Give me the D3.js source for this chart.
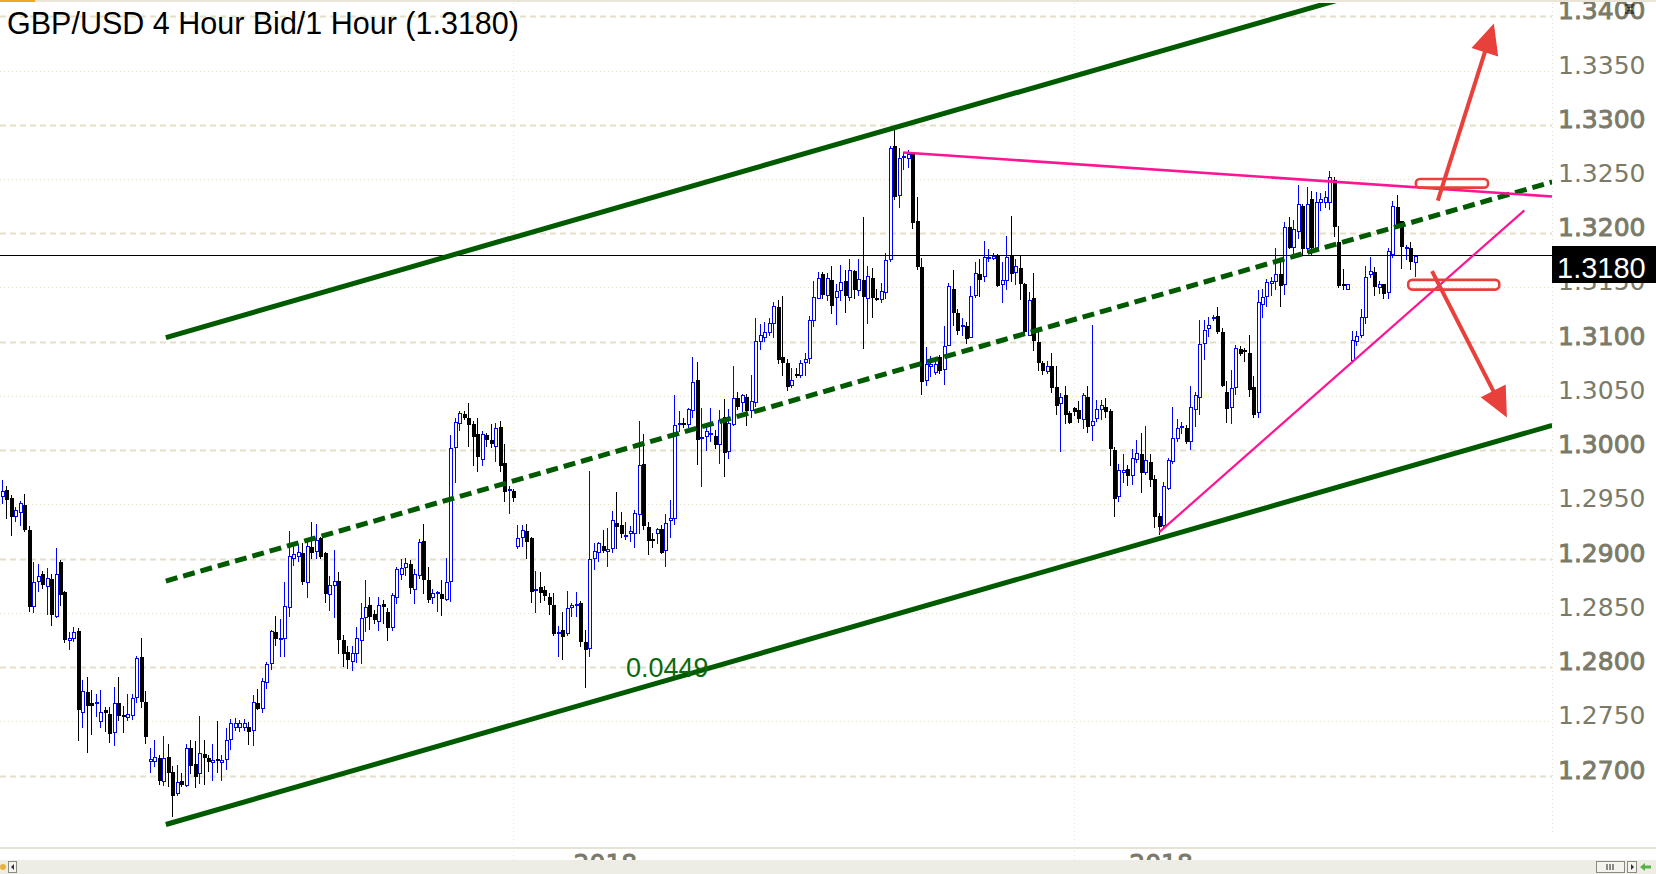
<!DOCTYPE html>
<html><head><meta charset="utf-8">
<script src="https://cdn.jsdelivr.net/npm/d3@7"></script>
<style>html,body{margin:0;padding:0;background:#fff;overflow:hidden}svg{display:block}</style>
</head><body><svg id="c" width="1656" height="874"></svg>
<script>
// ---------------- DATA ----------------
const title = "GBP/USD 4 Hour Bid/1 Hour (1.3180)";
const lastPrice = 1.3180;
const opens = [1.2958,1.2963,1.2956,1.2939,1.2943,1.2949,1.2926,1.2856,1.2879,1.2886,1.2875,1.2881,1.2847,1.2897,1.2869,1.2825,1.2827,1.2833,1.2759,1.2777,1.2767,1.2767,1.2750,1.2760,1.2757,1.2740,1.2767,1.2756,1.2754,1.2756,1.2772,1.2809,1.2768,1.2713,1.2713,1.2716,1.2695,1.2717,1.2703,1.2684,1.2695,1.2691,1.2725,1.2711,1.2702,1.2720,1.2716,1.2712,1.2715,1.2712,1.2715,1.2734,1.2745,1.2745,1.2745,1.2745,1.2742,1.2767,1.2762,1.2786,1.2804,1.2832,1.2826,1.2827,1.2855,1.2901,1.2902,1.2905,1.2878,1.2911,1.2907,1.2919,1.2905,1.2867,1.2876,1.2879,1.2825,1.2814,1.2806,1.2813,1.2825,1.2846,1.2857,1.2849,1.2842,1.2858,1.2851,1.2837,1.2865,1.2886,1.2892,1.2895,1.2872,1.2885,1.2916,1.2880,1.2865,1.2868,1.2867,1.2863,1.2879,1.3003,1.3025,1.3033,1.3030,1.3024,1.3015,1.2992,1.3014,1.3009,1.3004,1.3021,1.2988,1.2963,1.2962,1.2912,1.2920,1.2925,1.2919,1.2871,1.2874,1.2871,1.2865,1.2857,1.2831,1.2834,1.2831,1.2855,1.2857,1.2859,1.2823,1.2818,1.2901,1.2906,1.2912,1.2907,1.2910,1.2933,1.2931,1.2921,1.2924,1.2924,1.2941,1.2987,1.2929,1.2918,1.2924,1.2927,1.2908,1.2936,1.2937,1.3024,1.3025,1.3024,1.3037,1.3065,1.3011,1.3013,1.3015,1.3013,1.3006,1.3031,1.2999,1.3024,1.3048,1.3044,1.3049,1.3037,1.3044,1.3101,1.3104,1.3109,1.3117,1.3132,1.3086,1.3080,1.3060,1.3070,1.3069,1.3081,1.3085,1.3120,1.3140,1.3162,1.3143,1.3157,1.3141,1.3148,1.3156,1.3141,1.3165,1.3148,1.3157,1.3140,1.3159,1.3140,1.3139,1.3146,1.3176,1.3280,1.3235,1.3270,1.3269,1.3274,1.3211,1.3169,1.3065,1.3078,1.3072,1.3086,1.3075,1.3097,1.3149,1.3126,1.3114,1.3114,1.3104,1.3143,1.3162,1.3161,1.3177,1.3177,1.3180,1.3153,1.3157,1.3180,1.3164,1.3168,1.3153,1.3106,1.3140,1.3100,1.3080,1.3073,1.3078,1.3058,1.3043,1.3051,1.3034,1.3039,1.3037,1.3029,1.3049,1.3023,1.3030,1.3038,1.3040,1.3036,1.3000,1.2958,1.2980,1.2983,1.2977,1.2992,1.2996,1.2980,1.2989,1.2973,1.2939,1.2931,1.2965,1.2990,1.3011,1.3021,1.3020,1.3008,1.3038,1.3049,1.3099,1.3113,1.3122,1.3124,1.3109,1.3054,1.3040,1.3058,1.3093,1.3092,1.3090,1.3058,1.3035,1.3135,1.3142,1.3154,1.3156,1.3162,1.3153,1.3206,1.3187,1.3202,1.3225,1.3186,1.3232,1.3186,1.3229,1.3229,1.3229,1.3249,1.3192,1.3153,1.3149,1.3083,1.3101,1.3106,1.3123,1.3162,1.3164,1.3150,1.3153,1.3146,1.3181,1.3224,1.3211,1.3186,1.3186,1.3173];
const highs = [1.2972,1.2967,1.2959,1.2948,1.2953,1.2960,1.2930,1.2897,1.2895,1.2889,1.2891,1.2886,1.2910,1.2899,1.2870,1.2832,1.2837,1.2836,1.2788,1.2791,1.2779,1.2775,1.2779,1.2763,1.2763,1.2782,1.2791,1.2764,1.2775,1.2775,1.2810,1.2827,1.2778,1.2725,1.2733,1.2719,1.2736,1.2729,1.2709,1.2710,1.2702,1.2729,1.2733,1.2732,1.2755,1.2733,1.2719,1.2729,1.2750,1.2719,1.2744,1.2752,1.2753,1.2751,1.2752,1.2749,1.2774,1.2780,1.2790,1.2805,1.2834,1.2847,1.2844,1.2878,1.2925,1.2913,1.2913,1.2914,1.2915,1.2934,1.2932,1.2920,1.2906,1.2884,1.2908,1.2888,1.2830,1.2819,1.2819,1.2837,1.2859,1.2880,1.2865,1.2853,1.2865,1.2862,1.2854,1.2868,1.2892,1.2900,1.2901,1.2899,1.2890,1.2918,1.2932,1.2892,1.2872,1.2870,1.2880,1.2901,1.3014,1.3030,1.3036,1.3036,1.3043,1.3027,1.3030,1.3018,1.3016,1.3024,1.3025,1.3027,1.3006,1.2967,1.2964,1.2931,1.2931,1.2932,1.2920,1.2889,1.2888,1.2875,1.2868,1.2868,1.2838,1.2851,1.2870,1.2859,1.2869,1.2861,1.2834,1.2981,1.2914,1.2915,1.2926,1.2928,1.2944,1.2961,1.2943,1.2934,1.2930,1.2945,1.3027,1.3015,1.2934,1.2924,1.2928,1.2931,1.2941,1.2954,1.3051,1.3036,1.3030,1.3039,1.3086,1.3081,1.3039,1.3021,1.3039,1.3019,1.3037,1.3047,1.3038,1.3078,1.3054,1.3052,1.3052,1.3069,1.3122,1.3116,1.3118,1.3122,1.3137,1.3138,1.3142,1.3084,1.3076,1.3076,1.3083,1.3090,1.3124,1.3156,1.3164,1.3164,1.3163,1.3170,1.3153,1.3171,1.3166,1.3176,1.3166,1.3176,1.3215,1.3170,1.3168,1.3149,1.3154,1.3182,1.3280,1.3299,1.3279,1.3275,1.3277,1.3275,1.3233,1.3177,1.3095,1.3087,1.3085,1.3088,1.3114,1.3154,1.3166,1.3130,1.3122,1.3118,1.3151,1.3173,1.3176,1.3193,1.3185,1.3182,1.3181,1.3173,1.3197,1.3216,1.3176,1.3179,1.3154,1.3146,1.3163,1.3110,1.3082,1.3082,1.3090,1.3078,1.3053,1.3059,1.3036,1.3040,1.3045,1.3053,1.3059,1.3115,1.3046,1.3046,1.3048,1.3038,1.3003,1.2987,1.2996,1.2986,1.3001,1.3009,1.3016,1.3022,1.2996,1.2977,1.2942,1.2971,1.2993,1.3040,1.3029,1.3026,1.3023,1.3059,1.3054,1.3120,1.3120,1.3123,1.3125,1.3132,1.3113,1.3064,1.3074,1.3097,1.3096,1.3094,1.3106,1.3068,1.3148,1.3149,1.3158,1.3160,1.3186,1.3173,1.3210,1.3215,1.3212,1.3244,1.3227,1.3243,1.3239,1.3238,1.3237,1.3239,1.3257,1.3252,1.3207,1.3167,1.3153,1.3110,1.3110,1.3130,1.3170,1.3178,1.3169,1.3156,1.3153,1.3186,1.3230,1.3235,1.3211,1.3189,1.3192,1.3180];
const lows = [1.2951,1.2937,1.2922,1.2935,1.2931,1.2925,1.2852,1.2851,1.2870,1.2873,1.2849,1.2839,1.2846,1.2857,1.2823,1.2817,1.2824,1.2733,1.2745,1.2722,1.2738,1.2755,1.2745,1.2741,1.2731,1.2728,1.2751,1.2740,1.2751,1.2752,1.2768,1.2763,1.2730,1.2703,1.2709,1.2692,1.2691,1.2690,1.2663,1.2682,1.2690,1.2690,1.2702,1.2689,1.2693,1.2692,1.2704,1.2696,1.2703,1.2696,1.2706,1.2724,1.2742,1.2741,1.2742,1.2729,1.2728,1.2761,1.2759,1.2781,1.2798,1.2820,1.2810,1.2810,1.2847,1.2894,1.2898,1.2877,1.2865,1.2901,1.2901,1.2901,1.2860,1.2853,1.2846,1.2813,1.2801,1.2799,1.2797,1.2805,1.2804,1.2833,1.2835,1.2841,1.2834,1.2841,1.2825,1.2834,1.2859,1.2881,1.2885,1.2868,1.2859,1.2882,1.2868,1.2860,1.2859,1.2852,1.2848,1.2862,1.2861,1.2971,1.3019,1.3029,1.3004,1.2986,1.2981,1.2986,1.3004,1.3003,1.2990,1.2981,1.2953,1.2942,1.2953,1.2910,1.2912,1.2901,1.2860,1.2851,1.2860,1.2862,1.2849,1.2830,1.2810,1.2807,1.2830,1.2847,1.2847,1.2819,1.2782,1.2810,1.2890,1.2898,1.2906,1.2893,1.2906,1.2910,1.2920,1.2918,1.2916,1.2911,1.2924,1.2927,1.2904,1.2911,1.2914,1.2905,1.2893,1.2920,1.2932,1.3018,1.3021,1.3021,1.3031,1.2987,1.2967,1.3000,1.3008,1.3002,1.2988,1.2976,1.2993,1.3023,1.3038,1.3036,1.3023,1.3031,1.3041,1.3093,1.3101,1.3106,1.3104,1.3080,1.3069,1.3055,1.3058,1.3067,1.3067,1.3069,1.3080,1.3114,1.3140,1.3140,1.3138,1.3126,1.3116,1.3138,1.3127,1.3138,1.3140,1.3143,1.3094,1.3117,1.3123,1.3138,1.3137,1.3140,1.3174,1.3232,1.3224,1.3259,1.3261,1.3205,1.3167,1.3052,1.3060,1.3068,1.3070,1.3071,1.3061,1.3097,1.3115,1.3107,1.3106,1.3099,1.3104,1.3141,1.3142,1.3156,1.3174,1.3176,1.3151,1.3137,1.3149,1.3156,1.3153,1.3139,1.3106,1.3106,1.3092,1.3074,1.3070,1.3071,1.3054,1.3033,1.2999,1.3025,1.3025,1.3032,1.3026,1.3020,1.3017,1.3009,1.3027,1.3029,1.3031,1.2986,1.2939,1.2953,1.2971,1.2968,1.2969,1.2989,1.2961,1.2978,1.2967,1.2929,1.2923,1.2928,1.2964,1.2988,1.3008,1.3016,1.3007,1.3001,1.3022,1.3033,1.3084,1.3105,1.3120,1.3108,1.3059,1.3026,1.3025,1.3052,1.3088,1.3082,1.3050,1.3031,1.3031,1.3123,1.3133,1.3143,1.3149,1.3133,1.3144,1.3186,1.3180,1.3196,1.3180,1.3183,1.3180,1.3186,1.3221,1.3224,1.3222,1.3197,1.3150,1.3149,1.3149,1.3081,1.3097,1.3104,1.3117,1.3160,1.3143,1.3145,1.3140,1.3140,1.3178,1.3207,1.3168,1.3176,1.3167,1.3161];
const closes = [1.2962,1.2955,1.2939,1.2945,1.2951,1.2927,1.2856,1.2878,1.2884,1.2877,1.2882,1.2849,1.2886,1.2867,1.2826,1.2827,1.2832,1.2761,1.2778,1.2765,1.2765,1.2768,1.2759,1.2759,1.2739,1.2767,1.2756,1.2755,1.2757,1.2771,1.2808,1.2769,1.2736,1.2715,1.2717,1.2696,1.2716,1.2703,1.2682,1.2694,1.2692,1.2725,1.2710,1.2700,1.2721,1.2717,1.2713,1.2714,1.2714,1.2714,1.2733,1.2748,1.2748,1.2748,1.2748,1.2741,1.2768,1.2762,1.2787,1.2803,1.2833,1.2827,1.2827,1.2856,1.2902,1.2904,1.2906,1.2879,1.2912,1.2906,1.2917,1.2902,1.2868,1.2876,1.2879,1.2826,1.2813,1.2807,1.2813,1.2827,1.2845,1.2855,1.2847,1.2844,1.2857,1.2856,1.2837,1.2866,1.2890,1.2891,1.2896,1.2874,1.2886,1.2915,1.2881,1.2863,1.2868,1.2869,1.2864,1.2878,1.3002,1.3026,1.3034,1.3031,1.3024,1.3013,1.2995,1.3015,1.3010,1.3007,1.3020,1.2986,1.2962,1.2964,1.2957,1.2919,1.2926,1.2916,1.2870,1.2872,1.2869,1.2866,1.2858,1.2831,1.2832,1.2829,1.2854,1.2857,1.2858,1.2824,1.2817,1.2900,1.2907,1.2914,1.2908,1.2909,1.2936,1.2930,1.2924,1.2922,1.2925,1.2942,1.2986,1.2931,1.2917,1.2917,1.2927,1.2906,1.2933,1.2937,1.3023,1.3025,1.3024,1.3038,1.3063,1.3010,1.3012,1.3018,1.3016,1.3006,1.3028,1.2998,1.3025,1.3048,1.3041,1.3051,1.3037,1.3045,1.3101,1.3106,1.3109,1.3117,1.3133,1.3084,1.3081,1.3059,1.3065,1.3069,1.3080,1.3084,1.3120,1.3141,1.3159,1.3144,1.3159,1.3134,1.3147,1.3155,1.3143,1.3166,1.3149,1.3158,1.3142,1.3161,1.3141,1.3139,1.3147,1.3175,1.3279,1.3234,1.3269,1.3271,1.3273,1.3210,1.3170,1.3064,1.3079,1.3079,1.3079,1.3074,1.3096,1.3151,1.3127,1.3111,1.3115,1.3103,1.3142,1.3163,1.3158,1.3178,1.3178,1.3179,1.3152,1.3157,1.3178,1.3163,1.3170,1.3154,1.3110,1.3138,1.3102,1.3081,1.3074,1.3078,1.3058,1.3042,1.3049,1.3033,1.3026,1.3036,1.3030,1.3051,1.3022,1.3027,1.3038,1.3042,1.3036,1.3002,1.2956,1.2982,1.2982,1.2977,1.2993,1.2997,1.2980,1.2991,1.2973,1.2939,1.2930,1.2967,1.2991,1.3011,1.3020,1.3022,1.3008,1.3040,1.3051,1.3098,1.3111,1.3115,1.3123,1.3110,1.3060,1.3039,1.3057,1.3094,1.3090,1.3091,1.3056,1.3033,1.3137,1.3141,1.3155,1.3156,1.3162,1.3152,1.3206,1.3187,1.3204,1.3227,1.3186,1.3227,1.3187,1.3229,1.3232,1.3233,1.3252,1.3207,1.3152,1.3152,1.3153,1.3102,1.3105,1.3123,1.3160,1.3165,1.3151,1.3153,1.3145,1.3184,1.3225,1.3209,1.3188,1.3187,1.3174,1.3179];

const majorTicks = [1.27,1.28,1.29,1.30,1.31,1.32,1.33,1.34];
const minorTicks = [1.275,1.285,1.295,1.305,1.315,1.325,1.335];
const periodBreaks = [114.1, 239.1];          // candle positions of the period separators
const periodLabels = [[134.6,"2018"],[258.5,"2018"]];

// drawings, given as [candle position, price]
const channelBase = [[36.6,1.26548],[345.7,1.30228]];
const channelWidth = 0.0449;
const channelLabel = [139.2,1.2791,"0.0449"];
const resistanceLine = [[201.0,1.32744],[345.7,1.32338]];
const supportLine = [[258.1,1.29244],[339.5,1.32211]];
const boxes = [[315.3,331.4,1.3242,1.3250],[313.6,333.9,1.3148,1.3157]];
const arrows = [[[320.2,1.3230],[332.7,1.33933]],[[318.9,1.3165],[335.6,1.3030]]];

// ---------------- LAYOUT ----------------
const W = 1656, H = 874;
const plotL = 0, plotR = 1552, plotT = 3, plotB = 835;
const svg = d3.select("#c");
const x = d3.scaleLinear().domain([0, opens.length-1]).range([1.7, 1414.5]);
const y = d3.scaleLinear().domain([1.27, 1.34]).range([775.5, 16.3]);
const GRID = "#e4dfc9", LABEL = "#7b7a68";

svg.append("rect").attr("width",W).attr("height",H).attr("fill","#fff");
svg.append("defs").append("clipPath").attr("id","plot")
  .append("rect").attr("x",plotL).attr("y",plotT).attr("width",plotR-plotL).attr("height",plotB-plotT);

// grid
const g = svg.append("g");
g.selectAll(".maj").data(majorTicks).join("line")
  .attr("x1",plotL).attr("x2",plotR)
  .attr("y1",d=>Math.round(y(d))+0.5).attr("y2",d=>Math.round(y(d))+0.5)
  .attr("stroke",GRID).attr("stroke-width",2).attr("stroke-dasharray","6,4");
g.selectAll(".min").data(minorTicks).join("line")
  .attr("x1",plotL).attr("x2",plotR)
  .attr("y1",d=>Math.round(y(d))+0.5).attr("y2",d=>Math.round(y(d))+0.5)
  .attr("stroke",GRID).attr("stroke-width",1).attr("stroke-dasharray","1,3");
// vertical separators
g.selectAll(".vs").data(periodBreaks).join("line")
  .attr("x1",d=>Math.round(x(d))+0.5).attr("x2",d=>Math.round(x(d))+0.5)
  .attr("y1",plotT).attr("y2",860).attr("stroke","#ebe8da").attr("stroke-dasharray","1,3");
g.append("line").attr("x1",plotR+0.5).attr("x2",plotR+0.5).attr("y1",plotT).attr("y2",plotB)
  .attr("stroke","#e4e1d2").attr("stroke-dasharray","1,3");

// candles
const idx = d3.range(opens.length);
const cg = svg.append("g").attr("clip-path","url(#plot)");
const cx = i => Math.round(x(i));
cg.selectAll(".wick").data(idx).join("line")
  .attr("x1",i=>cx(i)+0.5).attr("x2",i=>cx(i)+0.5)
  .attr("y1",i=>Math.round(y(highs[i]))).attr("y2",i=>Math.round(y(lows[i]))+1)
  .attr("stroke",i=>closes[i]>=opens[i]?"#0000ff":"#000").attr("stroke-width",1);
const bulls = idx.filter(i=>closes[i]>=opens[i]);
const bears = idx.filter(i=>closes[i]<opens[i]);
cg.selectAll(".bull").data(bulls).join("rect")
  .attr("x",i=>cx(i)-0.5).attr("width",3)
  .attr("y",i=>Math.round(y(closes[i]))+0.5)
  .attr("height",i=>Math.max(1,Math.round(y(opens[i]))-Math.round(y(closes[i]))))
  .attr("fill","#fff").attr("stroke","#0000ff").attr("stroke-width",1);
cg.selectAll(".bear").data(bears).join("rect")
  .attr("x",i=>cx(i)-1).attr("width",4)
  .attr("y",i=>Math.round(y(opens[i])))
  .attr("height",i=>Math.max(2,Math.round(y(closes[i]))-Math.round(y(opens[i]))+1))
  .attr("fill","#000");

// last price line
svg.append("line").attr("x1",plotL).attr("x2",plotR)
  .attr("y1",Math.round(y(lastPrice))+0.5).attr("y2",Math.round(y(lastPrice))+0.5)
  .attr("stroke","#000").attr("stroke-width",1);

// channel
const dg = svg.append("g").attr("clip-path","url(#plot)");
const lineGen = d3.line().x(d=>x(d[0])).y(d=>y(d[1]));
const shift = (pts,dp)=>pts.map(p=>[p[0],p[1]+dp]);
dg.append("path").attr("d",lineGen(channelBase)).attr("stroke","#005a00").attr("stroke-width",5).attr("fill","none");
dg.append("path").attr("d",lineGen(shift(channelBase,channelWidth))).attr("stroke","#005a00").attr("stroke-width",5).attr("fill","none");
dg.append("path").attr("d",lineGen(shift(channelBase,channelWidth/2))).attr("stroke","#005a00").attr("stroke-width",5)
  .attr("stroke-dasharray","12,6").attr("fill","none");
svg.append("text").attr("x",x(channelLabel[0])).attr("y",y(channelLabel[1]))
  .attr("font-family","Liberation Sans, Arial, sans-serif").attr("font-size",27).attr("fill","#0b6a0b")
  .text(channelLabel[2]);

// pink lines
dg.append("path").attr("d",lineGen(resistanceLine)).attr("stroke","#ff1493").attr("stroke-width",2.6).attr("fill","none");
dg.append("path").attr("d",lineGen(supportLine)).attr("stroke","#ff1493").attr("stroke-width",2.2).attr("fill","none");

// red boxes
const RED = "#e8403a";
dg.selectAll(".box").data(boxes).join("rect")
  .attr("x",d=>x(d[0])).attr("width",d=>x(d[1])-x(d[0]))
  .attr("y",d=>y(d[3])).attr("height",d=>y(d[2])-y(d[3]))
  .attr("rx",4).attr("fill","none").attr("stroke",RED).attr("stroke-width",2.6);
// red arrows
arrows.forEach(a=>{
  const x0=x(a[0][0]), y0=y(a[0][1]), x1=x(a[1][0]), y1=y(a[1][1]);
  const ang=Math.atan2(y1-y0,x1-x0), L=30, Wd=14;
  const bx=x1-L*Math.cos(ang), by=y1-L*Math.sin(ang);
  dg.append("line").attr("x1",x0).attr("y1",y0).attr("x2",bx+4*Math.cos(ang)).attr("y2",by+4*Math.sin(ang))
    .attr("stroke",RED).attr("stroke-width",4);
  const px=-Math.sin(ang), py=Math.cos(ang);
  dg.append("path").attr("d",`M${x1},${y1}L${bx+Wd*px},${by+Wd*py}L${bx-Wd*px},${by-Wd*py}Z`).attr("fill",RED);
});

// axis labels
const allTicks = majorTicks.concat(minorTicks);
svg.selectAll(".yl").data(allTicks).join("text")
  .attr("x",1558).attr("y",d=>Math.round(y(d))+3)
  .attr("font-family","DejaVu Sans, sans-serif").attr("font-size",25)
  .attr("fill",LABEL)
  .attr("stroke",d=>majorTicks.includes(d)?LABEL:"none").attr("stroke-width",0.9)
  .text(d=>d.toFixed(4));

// last price box
const ly = Math.round(y(lastPrice));
svg.append("rect").attr("x",1552).attr("y",ly-9).attr("width",104).attr("height",37).attr("fill","#000");
svg.append("text").attr("x",1557).attr("y",ly+23).attr("font-family","Liberation Sans, Arial, sans-serif")
  .attr("font-size",29).attr("fill","#fff").text(lastPrice.toFixed(4));

// title
svg.append("text").attr("x",7).attr("y",34).attr("font-family","Liberation Sans, Arial, sans-serif")
  .attr("font-size",30.5).attr("fill","#000").text(title);

// top border
svg.append("rect").attr("x",0).attr("y",0).attr("width",W).attr("height",2).attr("fill","#e9e6d8");
svg.append("rect").attr("x",0).attr("y",0).attr("width",35).attr("height",2).attr("fill","#f2a626");
// small icon top right
const ic = svg.append("g").attr("transform","translate(1624,4)");
ic.append("path").attr("d","M1,1h9M3,3h6M1,9h9M3,7h6M5,3v4").attr("stroke","#000").attr("stroke-width",1.2).attr("fill","none");

// bottom area
svg.append("rect").attr("x",0).attr("y",847).attr("width",W).attr("height",2).attr("fill","#e6e3d3");
svg.selectAll(".xl").data(periodLabels).join("text")
  .attr("x",d=>x(d[0])).attr("y",872).attr("text-anchor","middle")
  .attr("font-family","DejaVu Sans, sans-serif").attr("font-size",25).attr("fill",LABEL)
  .attr("stroke",LABEL).attr("stroke-width",0.9).text(d=>d[1]);
svg.append("rect").attr("x",0).attr("y",860).attr("width",W).attr("height",14).attr("fill","#eeede5");
// scrollbar bits
svg.append("rect").attr("x",8.5).attr("y",861.5).attr("width",8).attr("height",11).attr("fill","#f4f3ee").attr("stroke","#8a8a80");
svg.append("path").attr("d","M14,864L11,867L14,870Z").attr("fill","#333");
svg.append("circle").attr("cx",3).attr("cy",867).attr("r",3).attr("fill","#e8b23c");
svg.append("rect").attr("x",1596.5).attr("y",861.5).attr("width",28).attr("height",11).attr("fill","#f4f3ee").attr("stroke","#8a8a80");
svg.append("path").attr("d","M1607,864v6M1610,864v6M1613,864v6").attr("stroke","#222").attr("stroke-width",1);
svg.append("rect").attr("x",1627.5).attr("y",861.5).attr("width",9).attr("height",11).attr("fill","#f4f3ee").attr("stroke","#8a8a80");
svg.append("path").attr("d","M1631,864L1634,867L1631,870Z").attr("fill","#333");
svg.append("path").attr("d","M1640,867l5,-4v2.5h6v3h-6v2.5z").attr("fill","#5cb04a");
</script></body></html>
